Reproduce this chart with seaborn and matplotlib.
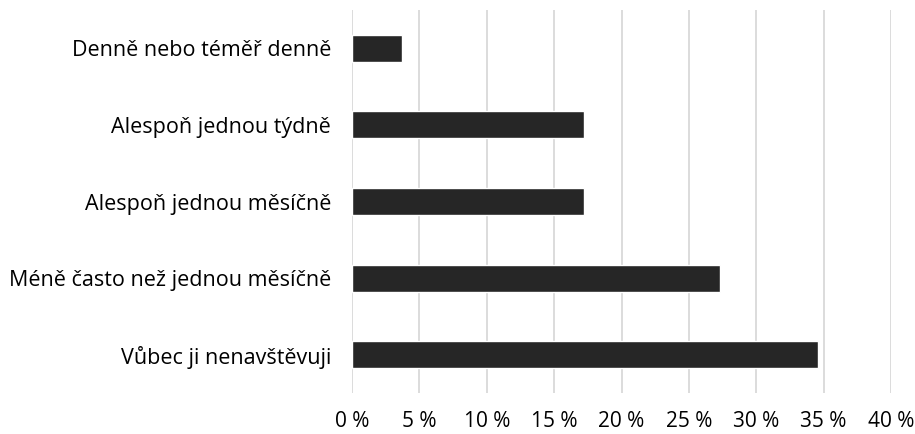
import matplotlib
matplotlib.use("Agg")
import matplotlib.pyplot as plt
import seaborn as sns
import pandas as pd

categories = [
    "Denně nebo téměř denně",
    "Alespoň jednou týdně",
    "Alespoň jednou měsíčně",
    "Méně často než jednou měsíčně",
    "Vůbec ji nenavštěvuji",
]
values = [3.7, 17.2, 17.2, 27.3, 34.6]
xticks = [0, 5, 10, 15, 20, 25, 30, 35, 40]
xticklabels = [f"{t} %" for t in xticks]

sns.set_theme(style="white")
plt.rcParams["font.family"] = ["Open Sans", "DejaVu Sans"]

df = pd.DataFrame({"cat": categories, "val": values})

fig = plt.figure(figsize=(9.15, 4.34), dpi=100)
ax = fig.add_axes([352 / 915, 1 - 393 / 434, (891 - 352) / 915, (393 - 10) / 434])
sns.barplot(data=df, y="cat", x="val", orient="h", color="#262626",
            width=0.35, saturation=1, ax=ax, order=categories)

ax.set_xlim(0, 40)
ax.set_xticks(xticks)
ax.set_xticklabels(xticklabels)
ax.set_xlabel("")
ax.set_ylabel("")
ax.grid(axis="x", color="#d9d9d9", linewidth=1.3)
ax.set_axisbelow(True)
for s in ax.spines.values():
    s.set_visible(False)
ax.tick_params(axis="y", length=0, labelsize=15.5, colors="#000000", pad=15)
ax.tick_params(axis="x", length=0, labelsize=15, colors="#000000", pad=13)

fig.savefig("out.png", dpi=100)
